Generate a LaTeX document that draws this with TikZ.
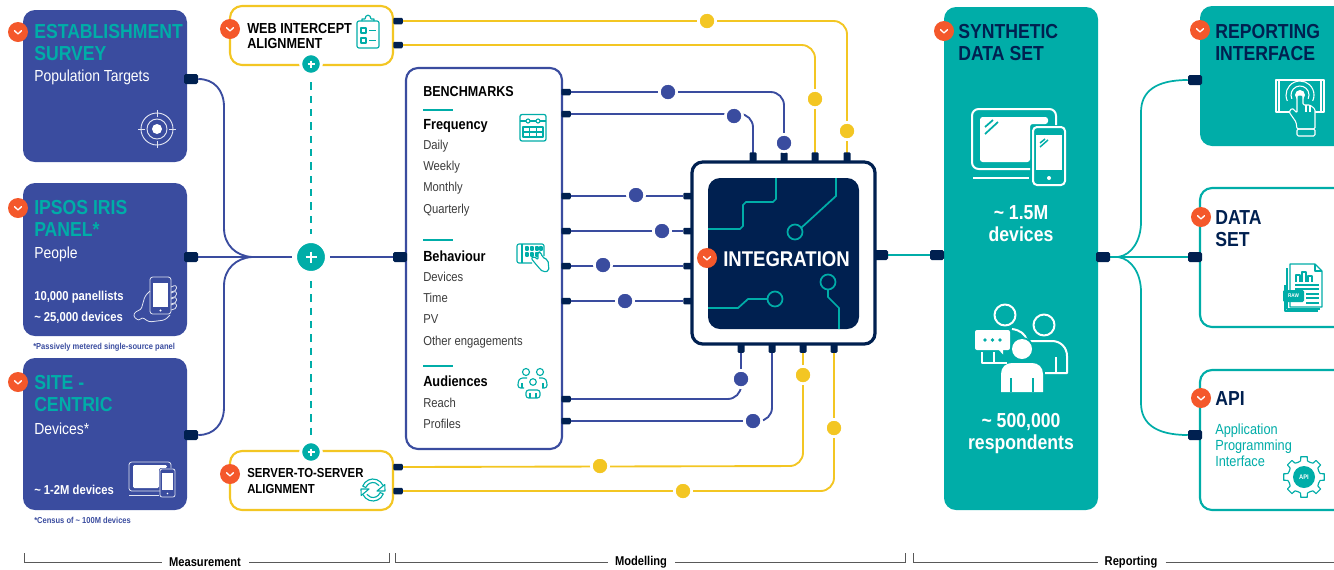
\documentclass[tikz,border=0pt]{standalone}
\usepackage{fontspec}
\setmainfont[FakeStretch=0.87]{Liberation Sans}
\definecolor{cblue}{HTML}{3A4C9F}
\definecolor{cnavy}{HTML}{002050}
\definecolor{cteal}{HTML}{00ADA8}
\definecolor{cyel}{HTML}{F3C623}
\definecolor{corg}{HTML}{F4582B}
\definecolor{cgray}{HTML}{3C3C3C}
\pgfdeclarelayer{conn}
\pgfsetlayers{conn,main}
\tikzset{
 wh/.style 2 args={minimum width=#1*0.75pt,minimum height=#2*0.75pt},
 panel/.style={rectangle,rounded corners=9pt,inner sep=0pt},
 bluebox/.style={panel,fill=cblue},
 tealbox/.style={panel,fill=cteal},
 yelbox/.style={panel,draw=cyel,fill=white,line width=1.6pt},
 outl/.style={panel,draw=cteal,fill=white,line width=1.6pt},
 bench/.style={panel,draw=cblue,fill=white,line width=1.6pt},
 chipo/.style={panel,rounded corners=8pt,draw=cnavy,fill=white,line width=2.4pt},
 chipi/.style={panel,fill=cnavy},
 portn/.style={rectangle,rounded corners=1.2pt,fill=cnavy,inner sep=0pt,wh={14}{10}},
 ports/.style={rectangle,rounded corners=.8pt,fill=cnavy,inner sep=0pt,wh={9.5}{6.5}},
 porth/.style={rectangle,rounded corners=.8pt,fill=cnavy,inner sep=0pt,wh={7}{9.5}},
 bdot/.style={circle,fill=cblue,draw=white,line width=2pt,inner sep=0pt,minimum size=13pt},
 ydot/.style={circle,fill=cyel,draw=white,line width=2pt,inner sep=0pt,minimum size=13pt},
 bl/.style={draw=cblue,line width=1.4pt},
 yl/.style={draw=cyel,line width=1.4pt},
 tl/.style={draw=cteal,line width=1.3pt},
 ttl/.style={anchor=north west,inner sep=0pt,align=left,font=\bfseries\fontsize{15.2}{16.5}\selectfont},
 tt/.style={anchor=base west,inner sep=0pt},
 bd/.style={tt,font=\fontsize{9.7}{11}\selectfont,text=cgray},
 hd/.style={tt,font=\bfseries\fontsize{11}{12}\selectfont,text=black},
 sm/.style={tt,font=\bfseries\fontsize{6.5}{7}\selectfont,text=cblue},
 wb/.style={tt,font=\bfseries\fontsize{9.7}{11}\selectfont,text=white},
 ws/.style={tt,font=\fontsize{12}{13}\selectfont,text=white},
 cent/.style={anchor=base,inner sep=0pt,align=center,font=\bfseries\fontsize{15.2}{16.5}\selectfont,text=white},
 sec/.style={anchor=center,inner sep=0pt,font=\bfseries\fontsize{9.6}{11}\selectfont,text=black},
 rule/.style={draw=cteal,line width=1pt},
 brk/.style={draw=black!65,line width=0.6pt},
 ic/.style={draw=cteal,line width=0.85pt,line join=round},
 iw/.style={draw=white,line width=0.8pt,line join=round},
 pics/badge/.style={code={\fill[corg] (0,0) circle[radius=10];\draw[white,line width=1pt,line cap=round,line join=round] (-3.5,-1.3)--(0,1.9)--(3.5,-1.3);}},
 pics/plusb/.style={code={\draw[white,line width=1.5pt] (-5.5,0)--(5.5,0) (0,-5.5)--(0,5.5);}},
 pics/pluss/.style={code={\draw[white,line width=1pt] (-3.5,0)--(3.5,0) (0,-3.5)--(0,3.5);}},
}
\begin{document}
\begin{tikzpicture}[x=0.75pt,y=-0.75pt]
\path[use as bounding box,clip] (0,0) rectangle (1334,569);
% ---------- boxes
\node[bluebox,wh={164}{152}] (est) at (105,86) {};
\node[bluebox,wh={164}{153}] (iris) at (105,259.5) {};
\node[bluebox,wh={164}{152}] (site) at (105,434) {};
\node[yelbox,wh={163}{59}] (web) at (311.5,35.5) {};
\node[yelbox,wh={163}{59}] (srv) at (311.5,480.5) {};
\node[bench,wh={156}{381}] (bm) at (484,258.5) {};
\node[chipo,wh={183}{182}] (chip) at (783.5,253) {};
\node[chipi,wh={151}{151}] (core) at (783.5,253.5) {};
\node[tealbox,wh={154}{503}] (syn) at (1021,258.5) {};
\node[tealbox,wh={160}{140}] (rep) at (1280,76) {};
\node[outl,wh={160}{139}] (ds) at (1280,257.5) {};
\node[outl,wh={160}{140}] (api) at (1280,440) {};
% ---------- ports
\node[portn] (pe) at (191,79) {};
\node[portn] (pi) at (191,257) {};
\node[portn] (ps) at (191,435) {};
\node[portn] (pb) at (400,257) {};
\node[ports] (pw1) at (398,21) {};
\node[ports] (pw2) at (398,45) {};
\node[ports] (pv1) at (398,467) {};
\node[ports] (pv2) at (398,491) {};
\foreach \n/\y in {a/92,b/114,c/196,d/231,e/266,f/301,g/399,h/421}{\node[ports] (pm\n) at (566,\y) {};}
\foreach \n/\y in {c/196,d/231,e/266,f/301}{\node[ports] (pl\n) at (688,\y) {};}
\foreach \n/\x in {a/753,b/784,c/815,d/847}{\node[porth] (pt\n) at (\x,157) {};}
\foreach \n/\x in {a/741,b/772,c/803,d/834}{\node[porth] (pu\n) at (\x,348) {};}
\node[portn] (pco) at (881,255) {};
\node[portn] (psi) at (937,255) {};
\node[portn] (pso) at (1103,257) {};
\node[portn] (pr1) at (1195,80) {};
\node[portn] (pr2) at (1195,257) {};
\node[portn] (pr3) at (1195,435) {};
% ---------- hubs and dots
\node[circle,fill=cteal,draw=white,line width=3.5pt,inner sep=0pt,minimum size=24.5pt] (hub) at (311,257) {};
\pic at (311,257) {plusb};
\node[circle,fill=cteal,draw=white,line width=2.2pt,inner sep=0pt,minimum size=15.5pt] (hw) at (311,64) {};
\pic at (311,64) {pluss};
\node[circle,fill=cteal,draw=white,line width=2.2pt,inner sep=0pt,minimum size=15.5pt] (hs) at (311,452) {};
\pic at (311,452) {pluss};
\coordinate (jl) at (252,257);
\coordinate (jr) at (1118,257);
\node[bdot] (d1) at (668,92) {};
\node[bdot] (d2) at (784,143) {};
\node[bdot] (d3) at (734,116) {};
\node[bdot] (d4) at (636,195) {};
\node[bdot] (d5) at (662,231) {};
\node[bdot] (d6) at (603,265) {};
\node[bdot] (d7) at (625,301) {};
\node[bdot] (d8) at (741,379) {};
\node[bdot] (d9) at (753,421) {};
\node[ydot] (y1) at (707,21) {};
\node[ydot] (y2) at (847,131) {};
\node[ydot] (y3) at (815,99) {};
\node[ydot] (y4) at (600,466) {};
\node[ydot] (y5) at (803,375) {};
\node[ydot] (y6) at (683,491) {};
\node[ydot] (y7) at (834,428) {};
% ---------- connectors
\begin{pgfonlayer}{conn}
\draw[bl] (pe.east) .. controls (214,79) and (224,90) .. (224,107) -- (224,228) .. controls (224,245) and (236,256) .. (jl);
\draw[bl] (ps.east) .. controls (214,435) and (224,424) .. (224,407) -- (224,286) .. controls (224,269) and (236,258) .. (jl);
\draw[bl] (pi.east) -- (hub) -- (pb.west);
\draw[tl,line width=.9pt,dash pattern=on 5.5pt off 4.5pt,shorten <=5pt,shorten >=3pt] (hw) -- (hub);
\draw[tl,line width=.9pt,dash pattern=on 5.5pt off 4.5pt,shorten <=4pt] (hub) -- (hs);
\draw[bl,rounded corners=10pt] (pma.east) -- (784,92) -- (ptb.south);
\draw[bl,rounded corners=10pt] (pmb.east) -- (753,114) -- (pta.south);
\draw[bl] (pmc.east) -- (plc.west);
\draw[bl] (pmd.east) -- (pld.west);
\draw[bl] (pme.east) -- (ple.west);
\draw[bl] (pmf.east) -- (plf.west);
\draw[bl,rounded corners=10pt] (pmg.east) -- (741,399) -- (pua.north);
\draw[bl,rounded corners=10pt] (pmh.east) -- (772,421) -- (pub.north);
\draw[yl,rounded corners=10pt] (pw1.east) -- (847,21) -- (ptd.south);
\draw[yl,rounded corners=10pt] (pw2.east) -- (815,45) -- (ptc.south);
\draw[yl,rounded corners=10pt] (pv1.east) -- (803,466) -- (puc.north);
\draw[yl,rounded corners=10pt] (pv2.east) -- (834,491) -- (pud.north);
\draw[tl] (pco.east) -- (psi.west);
\draw[tl] (pso.east) -- (pr2.west);
\draw[tl] (jr) .. controls (1132,255) and (1141,240) .. (1141,222) -- (1141,112) .. controls (1141,92) and (1155,80) .. (pr1.west);
\draw[tl] (jr) .. controls (1132,259) and (1141,274) .. (1141,292) -- (1141,403) .. controls (1141,423) and (1155,435) .. (pr3.west);
\end{pgfonlayer}
% ---------- chip traces
\draw[tl] (708,229) -- (740,229) -- (743,226) -- (743,205) -- (746,202) -- (773,202) -- (776,199) -- (776,178);
\draw[tl] (836,178) -- (836,196) -- (801,228);
\draw[tl] (795,232) circle[radius=7.5];
\draw[tl] (708,308) -- (738,308) -- (748,299) -- (767,299);
\draw[tl] (775,299) circle[radius=7.5];
\draw[tl] (828,282) circle[radius=7.5];
\draw[tl] (828,290) -- (828,297) -- (839,308) -- (839,329);
% ---------- badges
\foreach \x/\y in {18/32,18/208,18/382,230/29,230/474,707/258,944/31,1200/30,1201/217,1201/398}{\pic at (\x,\y) {badge};}
% ---------- text
\node[ttl,text=cteal] (t1) at (34,24) {ESTABLISHMENT\\SURVEY};
\node[ws] (t2) at (34,81) {Population Targets};
\node[ttl,text=cteal] (t3) at (34,200) {IPSOS IRIS\\PANEL*};
\node[ws] (t4) at (34,258) {People};
\node[wb] (t5) at (34,300) {10,000 panellists};
\node[wb] (t6) at (34,321) {\textasciitilde{} 25,000 devices};
\node[sm] (t7) at (33,349) {*Passively metered single-source panel};
\node[ttl,text=cteal] (t8) at (34,375) {SITE -\\CENTRIC};
\node[ws] (t9) at (34,434) {Devices*};
\node[wb] (t10) at (34,494) {\textasciitilde{} 1-2M devices};
\node[sm] (t11) at (34,523) {*Census of \textasciitilde{} 100M devices};
\node[anchor=north west,inner sep=0pt,align=left,font=\bfseries\fontsize{10.9}{11.6}\selectfont] (t12) at (247,23) {WEB INTERCEPT\\ALIGNMENT};
\node[anchor=north west,inner sep=0pt,align=left,font=\bfseries\fontsize{9.8}{11.8}\selectfont] (t13) at (247,468) {SERVER-TO-SERVER\\ALIGNMENT};
\node[hd,font=\bfseries\fontsize{10.8}{12}\selectfont] (t14) at (423,96) {BENCHMARKS};
\node[hd] (t15) at (423,129) {Frequency};
\node[bd] (t16) at (423,149) {Daily};
\node[bd] (t17) at (423,170) {Weekly};
\node[bd] (t18) at (423,191) {Monthly};
\node[bd] (t19) at (423,213) {Quarterly};
\node[hd] (t20) at (423,261) {Behaviour};
\node[bd] (t21) at (423,281) {Devices};
\node[bd] (t22) at (423,302) {Time};
\node[bd] (t23) at (423,323) {PV};
\node[bd] (t24) at (423,345) {Other engagements};
\node[hd] (t25) at (423,386) {Audiences};
\node[bd] (t26) at (423,407) {Reach};
\node[bd] (t27) at (423,428) {Profiles};
\draw[rule] (423,110) -- (453,110);
\draw[rule] (423,240) -- (453,240);
\draw[rule] (423,366) -- (453,366);
\node[tt,font=\bfseries\fontsize{16}{18}\selectfont,text=white] (t28) at (723,266) {INTEGRATION};
\node[ttl,text=cnavy] (t29) at (958,24) {SYNTHETIC\\DATA SET};
\node[cent] (t31) at (1021,219) {\textasciitilde{} 1.5M};
\node[cent] (t32) at (1021,241) {devices};
\node[cent] (t33) at (1021,427) {\textasciitilde{} 500,000};
\node[cent] (t34) at (1021,449) {respondents};
\node[ttl,text=cnavy] (t35) at (1215,24) {REPORTING\\INTERFACE};
\node[ttl,text=cnavy] (t36) at (1215,210) {DATA\\SET};
\node[ttl,text=cnavy] (t37) at (1215,391) {API};
\node[anchor=north west,inner sep=0pt,align=left,text=cteal,font=\fontsize{11}{11.8}\selectfont] (t38) at (1215,424) {Application\\Programming\\Interface};
\node[sec] (m) at (205,562) {Measurement};
\node[sec] (n) at (641,562) {Modelling};
\node[sec] (o) at (1131,562) {Reporting};
\coordinate (ma) at (24,553); \coordinate (mb) at (389,553);
\coordinate (na) at (395,553); \coordinate (nb) at (905,553);
\coordinate (oa) at (913,553); \coordinate (ob) at (1334,562);
\draw[brk] (ma) |- ([xshift=-5pt]m.west);
\draw[brk] (mb) |- ([xshift=6pt]m.east);
\draw[brk] (na) |- ([xshift=-5pt]n.west);
\draw[brk] (nb) |- ([xshift=6pt]n.east);
\draw[brk] (oa) |- ([xshift=-5pt]o.west);
\draw[brk] ([xshift=6pt]o.east) -- (ob);
% ---------- icons
\begin{scope}[shift={(157,129)},draw=white!85!cblue,line width=.7pt]
\draw (0,0) circle[radius=10] (0,0) circle[radius=16];
\fill[white] (0,0) circle[radius=5];
\draw (-19,0)--(-12,0) (12,0)--(19,0) (0,-19)--(0,-12) (0,12)--(0,19);
\end{scope}
% hand with phone
\begin{scope}[iw,line width=.6pt,draw=white!85!cblue]
\draw[rounded corners=2pt] (150,277) rectangle (171,314);
\fill[white] (153,283) rectangle (168,307);
\fill[white] (160.5,310.5) circle[radius=1.1];
\draw[rounded corners=2pt] (150,291) -- (145,296) -- (141,310) -- (136,311) -- (133,316) -- (139,321) -- (142,317) -- (149,322) -- (165,320) -- (170,315);
\foreach \y in {290,296,302,308}{\draw[rounded corners=1.5pt] (171,\y-3) -- (176,\y-5) -- (177,\y) -- (171,\y+2);}
\end{scope}
% devices small
\begin{scope}[iw,line width=.6pt,draw=white!85!cblue]
\draw[rounded corners=2pt] (160,491) -- (129,491) -- (129,462) -- (171,462) -- (171,468);
\fill[white,rounded corners=1pt] (133,465) -- (167,465) -- (167,468) -- (159,468) -- (159,488) -- (133,488) -- cycle;
\draw (129,495) -- (159,495);
\draw[rounded corners=1.5pt] (160,469) rectangle (175,497);
\fill[white] (162,473) rectangle (173,490);
\fill[white] (167.5,493.5) circle[radius=.9];
\end{scope}
\begin{scope}[ic]
\draw[rounded corners=1.5pt] (357,21) rectangle (379,48);
\draw (362,21) -- (362,19) -- (365,19) (371,19) -- (374,19) -- (374,21) (365,19) .. controls (365,14) and (371,14) .. (371,19);
\draw (361,28) rectangle (366,33) (361,38) rectangle (366,43);
\draw (369,30.5) -- (376,30.5) (369,40.5) -- (376,40.5);
\end{scope}
\begin{scope}[ic]
\draw[rounded corners=1.5pt,line width=.95pt] (520,114.5) rectangle (546,141);
\draw (520,121) -- (526,121) (530,121) -- (536,121) (540,121) -- (546,121);
\draw (528,121) circle[radius=2] (538,121) circle[radius=2];
\draw (523,127) rectangle (543,137) (523,132) -- (543,132) (529.7,127) -- (529.7,137) (536.3,127) -- (536.3,137);
\end{scope}
\begin{scope}[ic]
\draw[rounded corners=1.5pt] (532,263) -- (517,263) -- (517,244) -- (544,244) -- (544,256);
\draw (522,244) -- (522,263);
\foreach \x in {527,532,537,541}{\draw (\x-1,247) rectangle (\x+1,250);}
\foreach \x in {527,532,537}{\draw (\x-1,253) rectangle (\x+1,256);}
\draw[rounded corners=1.5pt,fill=white] (534,262) -- (531,258) -- (534,256) -- (538,260) -- (538,252) -- (541,252) -- (542,257) -- (548,260) -- (549,271) -- (543,272) -- (540,269) -- cycle;
\end{scope}
\begin{scope}[ic]
\draw (526,372) circle[radius=3.5] (540,372) circle[radius=3.5] (533,382) circle[radius=3.3];
\draw[rounded corners=2pt] (527,378) -- (520,378) -- (518,382) -- (518,388) -- (524,388);
\draw[rounded corners=2pt] (539,378) -- (545,378) -- (547,382) -- (547,388) -- (542,388);
\draw[rounded corners=2pt] (526,398) -- (526,390) -- (540,390) -- (540,398) -- cycle;
\draw (522,383) -- (522,388) (543,383) -- (543,388) (530,393) -- (530,398) (536,393) -- (536,398);
\end{scope}
% refresh: local y axis points up
\begin{scope}[shift={(373,490)},y=0.75pt,ic]
\draw (160:11) arc[start angle=160,end angle=25,radius=11];
\draw (160:7.5) arc[start angle=160,end angle=35,radius=7.5];
\draw (340:11) arc[start angle=340,end angle=205,radius=11];
\draw (340:7.5) arc[start angle=340,end angle=215,radius=7.5];
\draw (160:11) -- (160:7.5) (340:11) -- (340:7.5);
\draw (25:13) -- (4,-1) -- (12,-1) -- cycle;
\draw (205:13) -- (-4,1) -- (-12,1) -- cycle;
\end{scope}
% large devices
\begin{scope}[iw,line width=1.5pt]
\draw[rounded corners=5pt] (1030,169) -- (972,169) -- (972,109) -- (1056,109) -- (1056,125);
\fill[white,rounded corners=2pt] (980,117) -- (1048,117) -- (1048,124) -- (1030,124) -- (1030,162) -- (980,162) -- cycle;
\draw (973,178) -- (1029,178);
\draw[cteal,line width=1.3pt] (985,127) -- (993,120) (985,134) -- (998,122);
\draw[rounded corners=3pt] (1033,127) rectangle (1065,185);
\fill[white] (1036,135) rectangle (1062,170);
\fill[white] (1049,178) circle[radius=2];
\draw[cteal,line width=1.1pt] (1040,143) -- (1045,139) (1040,147) -- (1048,140);
\end{scope}
% people
\begin{scope}[iw,line width=1.5pt]
\draw (1005,315) circle[radius=10.5] (1044,325) circle[radius=10.5];
\draw (1012,329) .. controls (1020,330) and (1025,334) .. (1027,340);
\draw (1030,341) -- (1052,341) .. controls (1061,341) and (1067,348) .. (1067,356) -- (1067,373) -- (1045,373);
\draw (1056,357) -- (1056,373);
\draw (982,352) -- (982,363) -- (1007,363) (994,352) -- (994,363);
\fill[white,rounded corners=1.5pt] (975,330) rectangle (1010,350);
\fill[white] (998,349) -- (1003,354.5) -- (1003,349) -- cycle;
\fill[cteal] (985,340) circle[radius=1.8] (992.5,340) circle[radius=1.8] (1000,340) circle[radius=1.8];
\fill[cteal] (1022,349) circle[radius=12];
\fill[white] (1022,349) circle[radius=10];
\fill[white] (1001,392) -- (1001,374) .. controls (1001,367) and (1006,363) .. (1012,363) -- (1032,363) .. controls (1038,363) and (1043,367) .. (1043,374) -- (1043,392) -- cycle;
\draw[cteal] (1011,378) -- (1011,392) (1033,378) -- (1033,392);
\end{scope}
% touch panel
\begin{scope}[iw]
\draw (1276,80) rectangle (1324,112) (1279,80) -- (1279,112) (1321,80) -- (1321,112);
\fill[white] (1300,95) circle[radius=5];
\begin{scope}[shift={(1300,95)},y=0.75pt]
\draw (205:9) arc[start angle=205,end angle=-25,radius=9];
\draw (205:14) arc[start angle=205,end angle=-25,radius=14];
\end{scope}
\draw[rounded corners=1pt,fill=cteal] (1297,100) -- (1297,95) -- (1303,95) -- (1303,105) -- (1310,105) -- (1315,109) -- (1315,129) -- (1297,129) -- (1296,122) -- (1289,112) -- (1292,108) -- (1297,113) -- cycle;
\draw (1306,105) -- (1306,112) (1310,106) -- (1310,112);
\draw[rounded corners=1pt] (1297,129) rectangle (1315,136);
\end{scope}
% document
\begin{scope}[ic]
\draw (1285,285) -- (1285,311) -- (1318,311);
\draw (1287,268) -- (1287,309) -- (1320,309);
\draw[fill=white] (1290,264) -- (1315,264) -- (1322,271) -- (1322,307) -- (1290,307) -- cycle;
\draw (1315,264) -- (1315,271) -- (1322,271);
\draw (1296,282) -- (1296,275) -- (1300,275) -- (1300,282) (1302,282) -- (1302,272) -- (1306,272) -- (1306,282) (1308,282) -- (1308,276) -- (1312,276) -- (1312,282);
\draw (1295,285) -- (1319,285) (1295,289) -- (1319,289) (1306,294) -- (1319,294) (1306,298) -- (1319,298) (1306,303) -- (1319,303);
\end{scope}
\node[rectangle,rounded corners=1pt,fill=cteal,inner sep=0pt,wh={21}{12},text=white,font=\bfseries\fontsize{4}{4}\selectfont] (raw) at (1293.5,296) {RAW};
\begin{scope}[shift={(1304,477)},ic]
\foreach \a in {0,45,...,315}{\draw (\a-22.5:15.8) -- (\a-12:16.5) -- (\a-9:20.5) -- (\a+9:20.5) -- (\a+12:16.5) -- (\a+22.5:15.8);}
\end{scope}
\node[circle,fill=cteal,inner sep=0pt,minimum size=16.5pt,text=white,font=\bfseries\fontsize{5}{5}\selectfont] (gear) at (1304,477) {API};
\end{tikzpicture}
\end{document}
